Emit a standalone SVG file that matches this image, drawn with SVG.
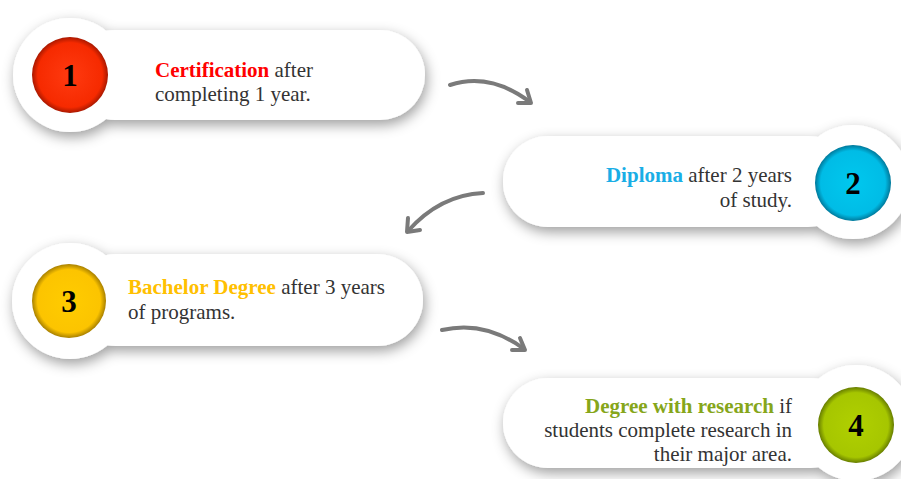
<svg xmlns="http://www.w3.org/2000/svg" width="901" height="479" viewBox="0 0 901 479">
  <defs>
    <filter id="shadow" x="-20%" y="-40%" width="140%" height="190%">
      <feDropShadow dx="2" dy="5" stdDeviation="6.5" flood-color="#000" flood-opacity="0.38"/>
    </filter>
    <filter id="soft" x="-10%" y="-30%" width="120%" height="160%">
      <feGaussianBlur stdDeviation="0.7"/>
    </filter>
    <radialGradient id="gRed" cx="50%" cy="50%" r="50%">
      <stop offset="0" stop-color="#ff3a10"/>
      <stop offset="0.85" stop-color="#f62a00"/>
      <stop offset="1" stop-color="#a81800"/>
    </radialGradient>
    <radialGradient id="gBlue" cx="50%" cy="50%" r="50%">
      <stop offset="0" stop-color="#00c8ee"/>
      <stop offset="0.85" stop-color="#00bce6"/>
      <stop offset="1" stop-color="#00789a"/>
    </radialGradient>
    <radialGradient id="gYellow" cx="50%" cy="50%" r="50%">
      <stop offset="0" stop-color="#ffcc00"/>
      <stop offset="0.85" stop-color="#fcc400"/>
      <stop offset="1" stop-color="#a88000"/>
    </radialGradient>
    <radialGradient id="gGreen" cx="50%" cy="50%" r="50%">
      <stop offset="0" stop-color="#b0d000"/>
      <stop offset="0.85" stop-color="#a6c600"/>
      <stop offset="1" stop-color="#667c00"/>
    </radialGradient>
  </defs>
  <style>
    .card { fill: #ffffff; }
    .txt { font-family: "Liberation Serif", "Times New Roman", serif; font-size: 21px; fill: #333333; }
    .num { font-family: "Liberation Serif", "Times New Roman", serif; font-size: 31px; font-weight: bold; fill: #000000; }
    .b { font-weight: bold; }
    .arrow { fill: none; stroke: #7a7a7a; stroke-width: 4; stroke-linecap: round; stroke-linejoin: round; }
  </style>
  <rect width="901" height="479" fill="#ffffff"/>

  <g id="node1">
    <g filter="url(#shadow)">
      <rect class="card" x="70" y="30" width="355" height="90" rx="45"/>
      <circle class="card" cx="70" cy="75" r="57"/>
    </g>
    <circle cx="70" cy="75" r="38" fill="url(#gRed)"/>
    <text class="num" x="70" y="86" text-anchor="middle">1</text>
    <text class="txt" x="155" y="77"><tspan class="b" fill="#ff0000">Certification</tspan> after</text>
    <text class="txt" x="155" y="101">completing 1 year.</text>
  </g>

  <g id="node2">
    <g filter="url(#shadow)">
      <rect class="card" x="503" y="136" width="350" height="91" rx="45"/>
      <circle class="card" cx="853" cy="182" r="57"/>
    </g>
    <circle cx="853" cy="183" r="38" fill="url(#gBlue)"/>
    <text class="num" x="853" y="194" text-anchor="middle">2</text>
    <text class="txt" x="792" y="182" text-anchor="end"><tspan class="b" fill="#1aaee6">Diploma</tspan> after 2 years</text>
    <text class="txt" x="792" y="207" text-anchor="end">of study.</text>
  </g>

  <g id="node3">
    <g filter="url(#shadow)">
      <rect class="card" x="70" y="254" width="353" height="92" rx="46"/>
      <circle class="card" cx="70" cy="301" r="58"/>
    </g>
    <circle cx="69" cy="301" r="37" fill="url(#gYellow)"/>
    <text class="num" x="69" y="312" text-anchor="middle">3</text>
    <text class="txt" x="128" y="294"><tspan class="b" fill="#ffc000">Bachelor Degree</tspan> after 3 years</text>
    <text class="txt" x="128" y="319">of programs.</text>
  </g>

  <g id="node4">
    <g filter="url(#shadow)">
      <rect class="card" x="503" y="378" width="353" height="90" rx="45"/>
      <circle class="card" cx="856" cy="423" r="58"/>
    </g>
    <circle cx="856" cy="425" r="38" fill="url(#gGreen)"/>
    <text class="num" x="856" y="436" text-anchor="middle">4</text>
    <text class="txt" x="792" y="413" text-anchor="end"><tspan class="b" fill="#86a61a">Degree with research</tspan> if</text>
    <text class="txt" x="792" y="437" text-anchor="end">students complete research in</text>
    <text class="txt" x="792" y="461" text-anchor="end">their major area.</text>
  </g>

  <g id="connectors" filter="url(#soft)">
    <path class="arrow" d="M450,85 Q490,72 530,102"/>
    <path class="arrow" d="M518,103 L531,103 L527,90"/>
    <path class="arrow" d="M483,193 Q440,195 408,231"/>
    <path class="arrow" d="M408,218 L407,232 L420,230"/>
    <path class="arrow" d="M442,330 Q485,320 524,349"/>
    <path class="arrow" d="M512,350 L525,350 L520,338"/>
  </g>
</svg>
